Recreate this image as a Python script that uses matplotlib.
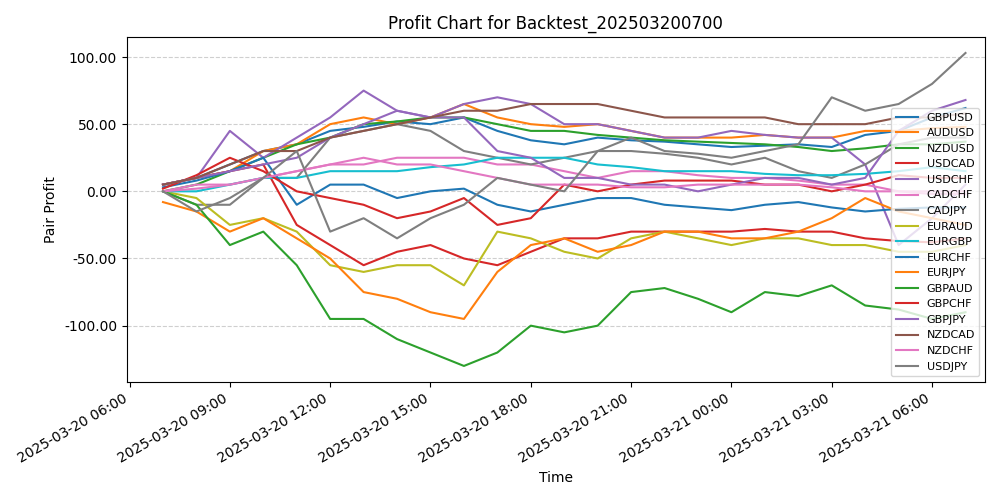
import matplotlib
matplotlib.use('Agg')
import matplotlib.pyplot as plt
import matplotlib.dates as mdates
from matplotlib.ticker import FormatStrFormatter
import pandas as pd

times = pd.date_range('2025-03-20 07:00', periods=25, freq='h')

GBPUSD = [5, 10, 20, 30, 35, 45, 48, 52, 50, 55, 45, 38, 35, 40, 38, 37, 35, 33, 34, 35, 33, 42, 45, 55, 62]
AUDUSD = [5, 10, 15, 30, 35, 50, 55, 50, 55, 65, 55, 50, 48, 50, 45, 40, 40, 40, 42, 40, 40, 45, 45, 47, 48]
NZDUSD = [0, 5, 15, 25, 35, 40, 50, 52, 55, 55, 50, 45, 45, 42, 40, 38, 37, 36, 35, 33, 30, 32, 35, 35, 37]
USDCAD = [5, 10, 15, 20, -25, -40, -55, -45, -40, -50, -55, -45, -35, -35, -30, -30, -30, -30, -28, -30, -30, -35, -37, -38, -35]
USDCHF = [5, 10, 45, 25, 40, 55, 75, 60, 55, 65, 70, 65, 50, 50, 45, 40, 40, 45, 42, 40, 40, 20, -40, -20, 5]
CADCHF = [0, 5, 5, 10, 15, 20, 20, 25, 25, 25, 20, 20, 15, 10, 15, 15, 12, 10, 10, 8, 5, 5, 0, 0, 0]
CADJPY = [0, -10, -10, 10, 10, 40, 45, 50, 45, 30, 25, 20, 25, 30, 30, 28, 25, 20, 25, 15, 10, 20, 35, 40, 40]
EURAUD = [0, -5, -25, -20, -30, -55, -60, -55, -55, -70, -30, -35, -45, -50, -35, -30, -35, -40, -35, -35, -40, -40, -45, -45, -40]
EURGBP = [0, 0, 5, 10, 10, 15, 15, 15, 18, 20, 25, 25, 25, 20, 18, 15, 15, 15, 13, 12, 12, 13, 15, 18, 15]
EURCHF = [3, 8, 15, 25, -10, 5, 5, -5, 0, 2, -10, -15, -10, -5, -5, -10, -12, -14, -10, -8, -12, -15, -13, -12, -12]
EURJPY = [-8, -15, -30, -20, -35, -50, -75, -80, -90, -95, -60, -40, -35, -45, -40, -30, -30, -35, -35, -30, -20, -5, -15, -20, -25]
GBPAUD = [0, -10, -40, -30, -55, -95, -95, -110, -120, -130, -120, -100, -105, -100, -75, -72, -80, -90, -75, -78, -70, -85, -88, -95, -90]
GBPCHF = [2, 12, 25, 15, 0, -5, -10, -20, -15, -5, -25, -20, 5, 0, 5, 8, 8, 8, 5, 5, 0, 5, 12, 10, 10]
GBPJPY = [5, 10, 15, 20, 25, 40, 50, 60, 55, 55, 30, 25, 10, 10, 5, 5, 0, 5, 10, 10, 5, 10, 45, 60, 68]
NZDCAD = [5, 10, 20, 30, 30, 40, 45, 50, 55, 60, 60, 65, 65, 65, 60, 55, 55, 55, 55, 50, 50, 50, 55, 55, 58]
NZDCHF = [0, 2, 5, 10, 15, 20, 25, 20, 20, 15, 10, 5, 5, 5, 3, 3, 5, 5, 5, 5, 3, 0, 0, -2, -2]
USDJPY = [0, -15, -5, 10, 30, -30, -20, -35, -20, -10, 10, 5, 0, 30, 40, 30, 28, 25, 30, 35, 70, 60, 65, 80, 103]

series = [
    ('GBPUSD', GBPUSD, 'tab:blue'), ('AUDUSD', AUDUSD, 'tab:orange'),
    ('NZDUSD', NZDUSD, 'tab:green'), ('USDCAD', USDCAD, 'tab:red'),
    ('USDCHF', USDCHF, 'tab:purple'), ('CADCHF', CADCHF, 'tab:pink'),
    ('CADJPY', CADJPY, 'tab:gray'), ('EURAUD', EURAUD, 'tab:olive'),
    ('EURGBP', EURGBP, 'tab:cyan'), ('EURCHF', EURCHF, 'tab:blue'),
    ('EURJPY', EURJPY, 'tab:orange'), ('GBPAUD', GBPAUD, 'tab:green'),
    ('GBPCHF', GBPCHF, 'tab:red'), ('GBPJPY', GBPJPY, 'tab:purple'),
    ('NZDCAD', NZDCAD, 'tab:brown'), ('NZDCHF', NZDCHF, 'tab:pink'),
    ('USDJPY', USDJPY, 'tab:gray'),
]

fig, ax = plt.subplots(figsize=(10, 5), dpi=100)
for name, vals, c in series:
    ax.plot(times, vals, color=c, label=name)

ax.set_title('Profit Chart for Backtest_202503200700')
ax.set_xlabel('Time')
ax.set_ylabel('Pair Profit')
ax.grid(axis='y', linestyle='--', alpha=0.6)
ax.yaxis.set_major_formatter(FormatStrFormatter('%.2f'))
ax.xaxis.set_major_locator(mdates.HourLocator(byhour=[0, 3, 6, 9, 12, 15, 18, 21]))
ax.xaxis.set_major_formatter(mdates.DateFormatter('%Y-%m-%d %H:%M'))
ax.set_xlim(pd.Timestamp('2025-03-20 05:55'), pd.Timestamp('2025-03-21 07:35'))
ax.legend(loc='lower right', fontsize=8)
fig.autofmt_xdate()
fig.tight_layout()
fig.savefig('out.png')
